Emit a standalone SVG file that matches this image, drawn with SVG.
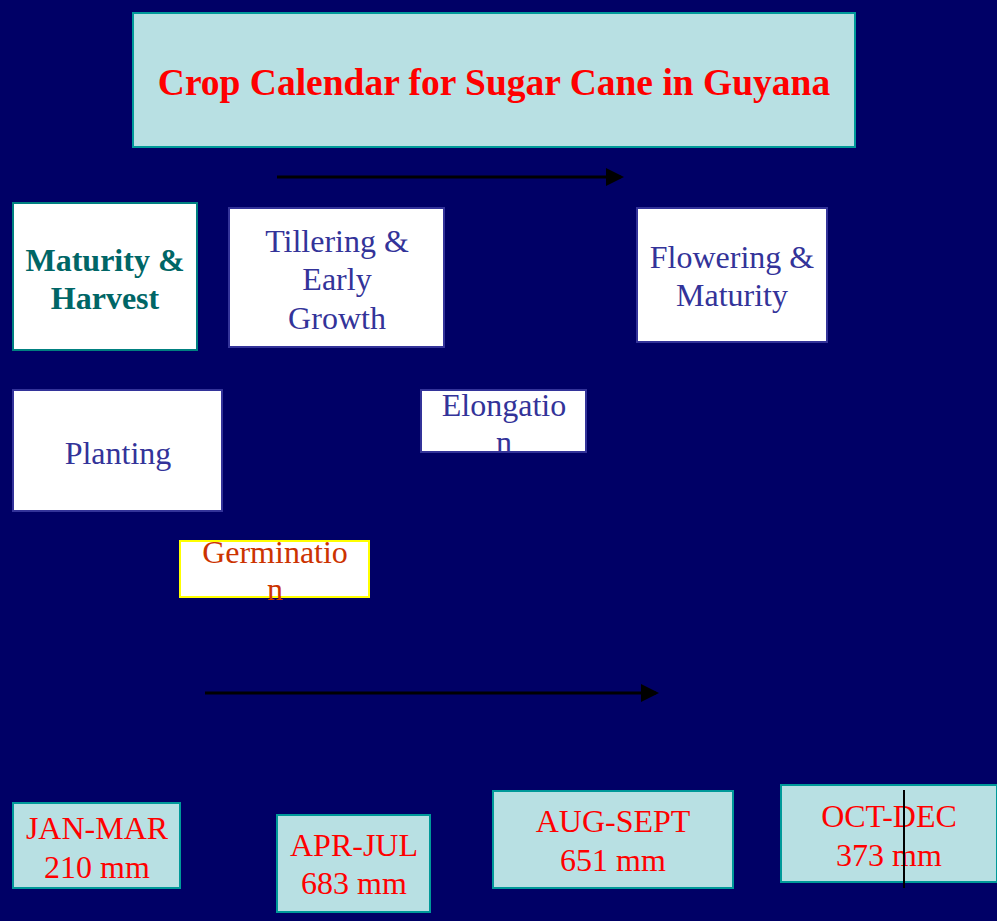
<svg xmlns="http://www.w3.org/2000/svg" width="997" height="921" viewBox="0 0 997 921">
<defs>
<marker id="ah" markerWidth="6" markerHeight="6" refX="5" refY="3" orient="auto" markerUnits="strokeWidth"><path d="M0,0 L6,3 L0,6 z" fill="#000"/></marker>
</defs>
<style>
text{font-family:"Liberation Serif","Times New Roman",serif;text-anchor:middle}
.cyan{fill:#b8e0e3;stroke:#009999;stroke-width:2}
.wb{fill:#fff;stroke:#333399;stroke-width:2}
.blue{fill:#333399;font-size:32px}
.red{fill:#ff0000;font-size:32px}
.conn{stroke:#000;stroke-width:3;fill:none}
</style>
<rect width="997" height="921" fill="#000066"/>
<g id="title">
<rect class="cyan" x="133" y="13" width="722" height="134"/>
<text x="494" y="95" fill="#ff0000" font-size="37.5" font-weight="bold">Crop Calendar for Sugar Cane in Guyana</text>
</g>
<g id="maturity-harvest">
<rect x="13" y="203" width="184" height="147" fill="#fff" stroke="#008080" stroke-width="2"/>
<text x="105" y="271" fill="#006666" font-size="32" font-weight="bold">Maturity &amp;</text>
<text x="105" y="309" fill="#006666" font-size="32" font-weight="bold">Harvest</text>
</g>
<g id="tillering">
<rect class="wb" x="229" y="208" width="215" height="139"/>
<text class="blue" x="337" y="252">Tillering &amp;</text>
<text class="blue" x="337" y="290">Early</text>
<text class="blue" x="337" y="329">Growth</text>
</g>
<g id="flowering">
<rect class="wb" x="637" y="208" width="190" height="134"/>
<text class="blue" x="732" y="268">Flowering &amp;</text>
<text class="blue" x="732" y="306">Maturity</text>
</g>
<g id="planting">
<rect class="wb" x="13" y="390" width="209" height="121"/>
<text class="blue" x="118" y="464">Planting</text>
</g>
<g id="elongation">
<rect class="wb" x="421" y="390" width="165" height="62"/>
<text class="blue" x="504" y="416">Elongatio</text>
<text class="blue" x="504" y="453">n</text>
</g>
<g id="germination">
<rect x="180" y="541" width="189" height="56" fill="#fff" stroke="#ffff00" stroke-width="2"/>
<text x="275" y="563" fill="#cc3300" font-size="32">Germinatio</text>
<text x="275" y="600" fill="#cc3300" font-size="32">n</text>
</g>
<g id="jan-mar">
<rect class="cyan" x="13" y="803" width="167" height="85"/>
<text class="red" x="97" y="839">JAN-MAR</text>
<text class="red" x="97" y="878">210 mm</text>
</g>
<g id="apr-jul">
<rect class="cyan" x="277" y="815" width="153" height="97"/>
<text class="red" x="354" y="856">APR-JUL</text>
<text class="red" x="354" y="894">683 mm</text>
</g>
<g id="aug-sept">
<rect class="cyan" x="493" y="791" width="240" height="97"/>
<text class="red" x="613" y="832">AUG-SEPT</text>
<text class="red" x="613" y="871">651 mm</text>
</g>
<g id="oct-dec">
<rect class="cyan" x="781" y="785" width="216" height="97"/>
<text class="red" x="889" y="827">OCT-DEC</text>
<text class="red" x="889" y="866">373 mm</text>
</g>
<g id="connectors">
<line class="conn" x1="277" y1="177" x2="621" y2="177" marker-end="url(#ah)"/>
<line class="conn" x1="205" y1="693" x2="656" y2="693" marker-end="url(#ah)"/>
<line x1="904" y1="790" x2="904" y2="888" stroke="#000" stroke-width="2"/>
</g>
</svg>
